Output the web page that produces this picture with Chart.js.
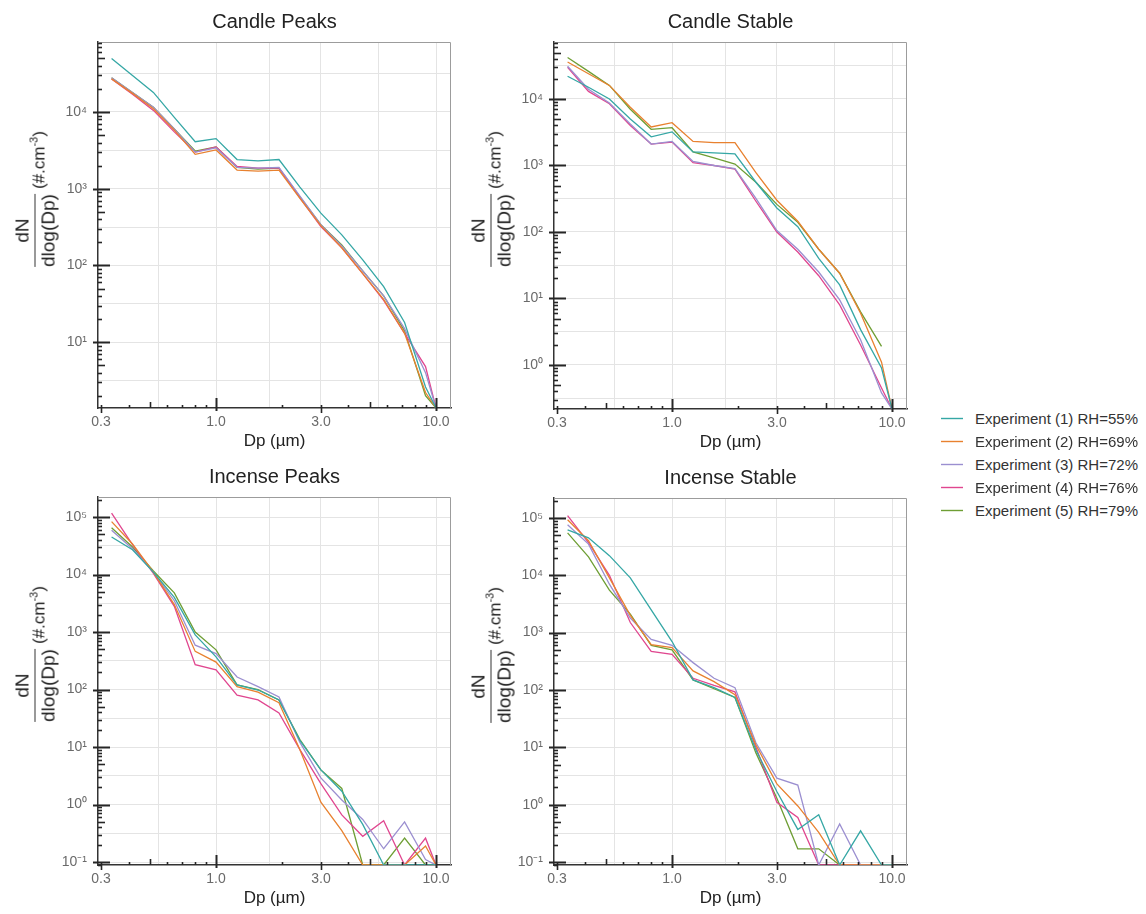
<!DOCTYPE html>
<html>
<head>
<meta charset="utf-8">
<script src="https://cdn.jsdelivr.net/npm/chart.js@4.4.1/dist/chart.umd.min.js"></script>
<style>
  body { margin: 0; background: #fff; width: 1146px; height: 914px; position: relative; overflow: hidden;
         font-family: "Liberation Sans", Arial, sans-serif; }
  canvas { position: absolute; }
  .title { position: absolute; font-size: 20px; color: #222; transform: translate(-50%, -50%); white-space: nowrap; }
  .xlab { position: absolute; font-size: 17px; color: #222; transform: translate(-50%, -50%); white-space: nowrap; }
  .ylab { position: absolute; transform: translate(-50%, -50%) rotate(-90deg); display: flex; align-items: center;
          white-space: nowrap; color: #222; }
  .frac { display: flex; flex-direction: column; align-items: stretch; font-size: 19px; line-height: 21px; text-align: center; }
  .frac .bar { height: 1px; background: #333; margin: 2px 0; }
  .unit { font-size: 17px; margin-left: 5px; margin-top: 6px; }
  .unit sup { font-size: 11px; }
  .legend { position: absolute; left: 940px; top: 407px; font-size: 15px; color: #333; }
  .legend .row { position: relative; height: 23px; line-height: 23px; padding-left: 35px; white-space: nowrap; }
  .legend canvas { position: absolute; left: 0; top: 10px; }
</style>
</head>
<body>
<canvas id="c1" width="456" height="456" style="left:0;top:0"></canvas>
<canvas id="c2" width="456" height="456" style="left:456px;top:0"></canvas>
<canvas id="c3" width="456" height="458" style="left:0;top:456px"></canvas>
<canvas id="c4" width="456" height="458" style="left:456px;top:456px"></canvas>
<div id="labels"></div>
<div class="legend" id="legend"></div>
<script>
// Optical particle sizer channel midpoints (µm)
const diameters = [0.335, 0.417, 0.519, 0.646, 0.804, 1.0, 1.246, 1.552, 1.932, 2.406, 2.996, 3.73, 4.644, 5.782, 7.198, 8.962, 10.0];

const experiments = ['Experiment (1) RH=55%', 'Experiment (2) RH=69%', 'Experiment (3) RH=72%', 'Experiment (4) RH=76%', 'Experiment (5) RH=79%'];
const colors = ['#35a7a5', '#e8812f', '#9b8fd0', '#e0468f', '#6e9e34'];

const panelTitles = ['Candle Peaks', 'Candle Stable', 'Incense Peaks', 'Incense Stable'];

// dN/dlog(Dp) in #/cm3; 0 = no counts in that channel, null = not reported
const candlePeaks1 = [50000, 30000, 18000, 8500, 4100, 4500, 2400, 2300, 2400, 1050, 480, 250, 118, 53, 18, 2.6, 0];
const candlePeaks2 = [27000, 17500, 11000, 5800, 2800, 3200, 1750, 1700, 1750, 750, 330, 170, 78, 36, 13, 2.2, 0];
const candlePeaks3 = [28000, 18000, 11500, 6000, 3000, 3400, 1900, 1850, 1900, 800, 340, 180, 85, 40, 15, 4.0, 0];
const candlePeaks4 = [27000, 17000, 10500, 5500, 3000, 3500, 1950, 1850, 1850, 760, 320, 170, 78, 35, 13, 4.8, 0];
const candlePeaks5 = [28000, 18000, 11500, 6000, 3100, 3500, 1900, 1800, 1850, 780, 340, 185, 85, 40, 14, 2.0, 0];

const candleStable1 = [22000, 15000, 10000, 5000, 2700, 3200, 1600, 1550, 1500, 560, 230, 120, 40, 16, 3.4, 0.9, 0];
const candleStable2 = [36000, 24000, 16000, 7500, 3800, 4400, 2300, 2200, 2200, 780, 300, 145, 55, 24, 6.0, 1.1, 0];
const candleStable3 = [31000, 14000, 8700, 4200, 2100, 2300, 1150, 1000, 900, 320, 105, 55, 25, 9.5, 2.4, 0.38, 0];
const candleStable4 = [30000, 13000, 8500, 4000, 2100, 2250, 1100, 1000, 880, 290, 100, 50, 22, 8, 2.0, 0.45, 0];
const candleStable5 = [42000, 26000, 16000, 7000, 3500, 3700, 1600, 1300, 1050, 560, 260, 140, 55, 24, 6.3, 1.9, null];

const incensePeaks1 = [45000, 27000, 11000, 4000, 890, 370, 120, 98, 66, 13, 4.0, 1.7, 0.45, 0, 0, 0, 0];
const incensePeaks2 = [83000, 34000, 11000, 3000, 460, 300, 112, 90, 59, 9, 1.1, 0.35, 0, 0, 0, 0.19, 0];
const incensePeaks3 = [59000, 28000, 11000, 3500, 590, 420, 165, 112, 74, 12, 2.9, 1.2, 0.55, 0.17, 0.5, 0.11, 0];
const incensePeaks4 = [117000, 33000, 10500, 2800, 270, 220, 80, 66, 39, 9, 2.3, 0.66, 0.28, 0.52, 0, 0.26, 0];
const incensePeaks5 = [65000, 30000, 11500, 4800, 1000, 490, 120, 100, 66, 13.5, 4.0, 1.9, 0, 0, 0.26, 0, 0];

const incenseStable1 = [62000, 45000, 22000, 9000, 2500, 700, 150, 110, 74, 9, 1.7, 0.37, 0.67, 0, 0.35, 0, 0];
const incenseStable2 = [93000, 40000, 9000, 2000, 615, 550, 215, 140, 83, 11, 2.3, 0.95, 0.33, 0, 0, 0, 0];
const incenseStable3 = [76000, 35000, 7000, 1800, 760, 600, 300, 160, 110, 12, 2.9, 2.2, 0, 0.46, 0, 0, 0];
const incenseStable4 = [110000, 37000, 10000, 1500, 470, 420, 160, 120, 93, 10, 1.1, 0.6, 0, 0, 0, 0, 0];
const incenseStable5 = [55000, 21000, 5500, 2100, 600, 500, 150, 105, 74, 8, 1.3, 0.17, 0.17, 0, 0, 0, 0];

// axis tick labels and grid positions
const xTickLabels = [0.3, 1.0, 3.0, 10.0];
const xGridLines = [0.55, 1.0, 1.75, 3.0, 5.5, 10.0];
const xRange = [0.2906, 11.7];

const panels = [
  { id: 'c1', left: 0,   top: 0,   h: 456, padTop: 42, bottom: 408, yRange: [1.384, 81760],
    series: [candlePeaks1, candlePeaks2, candlePeaks3, candlePeaks4, candlePeaks5] },
  { id: 'c2', left: 456, top: 0,   h: 456, padTop: 42, bottom: 409, yRange: [0.2178, 71940],
    series: [candleStable1, candleStable2, candleStable3, candleStable4, candleStable5] },
  { id: 'c3', left: 0,   top: 456, h: 458, padTop: 41, bottom: 409, yRange: [0.0887, 222800],
    series: [incensePeaks1, incensePeaks2, incensePeaks3, incensePeaks4, incensePeaks5] },
  { id: 'c4', left: 456, top: 456, h: 458, padTop: 42, bottom: 409, yRange: [0.0887, 222800],
    series: [incenseStable1, incenseStable2, incenseStable3, incenseStable4, incenseStable5] }
];

const SUP = { '-': '⁻', '0': '⁰', '1': '¹', '2': '²', '3': '³', '4': '⁴', '5': '⁵', '6': '⁶', '7': '⁷', '8': '⁸', '9': '⁹' };
const powLabel = e => '10' + String(e).split('').map(c => SUP[c]).join('');
const near = (a, b) => Math.abs(a / b - 1) < 1e-6;
const inList = (v, list) => list.some(u => near(v, u));

// inward log ticks on the left and bottom axes, plus the grey top/right frame
const axisDecor = {
  id: 'axisDecor',
  afterDraw(chart) {
    const { ctx, chartArea: a, scales: { x, y } } = chart;
    ctx.save();
    ctx.strokeStyle = '#9c9c9c';
    ctx.lineWidth = 1;
    ctx.beginPath();
    ctx.moveTo(a.left, a.top + 0.5);
    ctx.lineTo(a.right - 0.5, a.top + 0.5);
    ctx.lineTo(a.right - 0.5, a.bottom);
    ctx.stroke();

    ctx.strokeStyle = '#262626';
    for (let k = -1; k <= 1; k++) {
      for (let n = 1; n <= 9; n++) {
        const v = n * Math.pow(10, k);
        if (v < x.min || v > x.max) continue;
        const px = Math.round(x.getPixelForValue(v)) + 0.5;
        let up = 3, down = 0, w = 1.6;
        if (n === 1) { up = 10; down = 3; w = 2; }
        else if (n === 5) { up = 6; }
        else if (n === 3) { up = 3; down = 5; }
        ctx.lineWidth = w;
        ctx.beginPath();
        ctx.moveTo(px, a.bottom - up);
        ctx.lineTo(px, a.bottom + down);
        ctx.stroke();
      }
    }
    const k0 = Math.floor(Math.log10(y.min)), k1 = Math.ceil(Math.log10(y.max));
    for (let k = k0; k <= k1; k++) {
      for (let n = 1; n <= 9; n++) {
        const v = n * Math.pow(10, k);
        if (v < y.min || v > y.max) continue;
        const py = Math.round(y.getPixelForValue(v)) + 0.5;
        let left = 0, right = 4, w = 1.6;
        if (n === 1) { left = 5; right = 12; w = 2; }
        else if (n === 5) { right = 7; }
        ctx.lineWidth = w;
        ctx.beginPath();
        ctx.moveTo(a.left - left, py);
        ctx.lineTo(a.left + right, py);
        ctx.stroke();
      }
    }
    ctx.restore();
  }
};

panels.forEach((p, pi) => {
  const [yMin, yMax] = p.yRange;
  // decade labels with half-decade grid lines
  const yTicks = [];
  for (let k = Math.floor(Math.log10(yMin)); k <= Math.ceil(Math.log10(yMax)); k += 0.5) {
    const v = Math.pow(10, k);
    if (v >= yMin && v <= yMax) yTicks.push(v);
  }
  const xTicks = [...new Set([...xTickLabels, ...xGridLines])].sort((a, b) => a - b);

  const datasets = p.series.map((vals, i) => ({
    label: experiments[i],
    // empty channels sit on the axis floor
    data: diameters.map((d, j) => ({ x: d, y: vals[j] === 0 ? yMin : vals[j] })),
    borderColor: colors[i],
    backgroundColor: colors[i],
    borderWidth: 1.3,
    pointRadius: 0,
    tension: 0,
    spanGaps: false
  }));

  new Chart(document.getElementById(p.id), {
    type: 'line',
    data: { datasets },
    options: {
      responsive: false,
      animation: false,
      events: [],
      layout: { padding: { top: p.padTop, right: 5, left: 0, bottom: 0 } },
      plugins: { legend: { display: false }, tooltip: { enabled: false } },
      scales: {
        x: {
          type: 'logarithmic',
          min: xRange[0], max: xRange[1],
          bounds: 'data',
          afterBuildTicks: s => { s.ticks = xTicks.map(v => ({ value: v })); },
          afterFit: s => { s.height = p.h - p.bottom; },
          grid: { drawTicks: false, lineWidth: 1,
                  color: c => (c.tick && inList(c.tick.value, xGridLines)) ? '#e4e4e4' : 'rgba(0,0,0,0)' },
          border: { display: true, color: '#333', width: 1.5 },
          ticks: { autoSkip: false, maxRotation: 0, padding: 6, color: '#6a6a6a',
                   font: { family: '"Liberation Sans", Arial, sans-serif', size: 14 },
                   callback: v => inList(v, xTickLabels) ? Number(v).toFixed(1) : '' }
        },
        y: {
          type: 'logarithmic',
          min: yMin, max: yMax,
          bounds: 'data',
          afterBuildTicks: s => { s.ticks = yTicks.map(v => ({ value: v })); },
          afterFit: s => { s.width = 98; },
          grid: { drawTicks: false, lineWidth: 1, color: '#e4e4e4' },
          border: { display: true, color: '#333', width: 1.5 },
          ticks: { autoSkip: false, padding: 11, color: '#6a6a6a',
                   font: { family: '"Liberation Sans", Arial, sans-serif', size: 14 },
                   callback: v => {
                     const e = Math.log10(v);
                     return Math.abs(e - Math.round(e)) < 1e-6 ? powLabel(Math.round(e)) : '';
                   } }
        }
      }
    },
    plugins: [axisDecor]
  });

  // titles and axis captions
  const labels = document.getElementById('labels');
  const cx = p.left + (98 + 451) / 2;
  const plotTop = p.top + p.padTop;
  const plotBottom = p.top + p.bottom;
  const t = document.createElement('div');
  t.className = 'title';
  t.textContent = panelTitles[pi];
  t.style.left = cx + 'px';
  t.style.top = (plotTop - 21) + 'px';
  labels.appendChild(t);

  const xl = document.createElement('div');
  xl.className = 'xlab';
  xl.textContent = 'Dp (µm)';
  xl.style.left = cx + 'px';
  xl.style.top = (plotBottom + 33) + 'px';
  labels.appendChild(xl);

  const yl = document.createElement('div');
  yl.className = 'ylab';
  yl.innerHTML = '<div class="frac"><span>dN</span><div class="bar"></div><span>dlog(Dp)</span></div>' +
                 '<span class="unit">(#.cm<sup>-3</sup>)</span>';
  yl.style.left = (p.left + 35) + 'px';
  yl.style.top = (plotTop + 157) + 'px';
  labels.appendChild(yl);
});

// shared legend: a short line sample per experiment, then its name
const legend = document.getElementById('legend');
experiments.forEach((name, i) => {
  const row = document.createElement('div');
  row.className = 'row';
  const sw = document.createElement('canvas');
  sw.width = 24; sw.height = 3;
  const g = sw.getContext('2d');
  g.strokeStyle = colors[i];
  g.lineWidth = 1.4;
  g.beginPath(); g.moveTo(1, 1.5); g.lineTo(23, 1.5); g.stroke();
  row.appendChild(sw);
  row.appendChild(document.createTextNode(name));
  legend.appendChild(row);
});
</script>
</body>
</html>
